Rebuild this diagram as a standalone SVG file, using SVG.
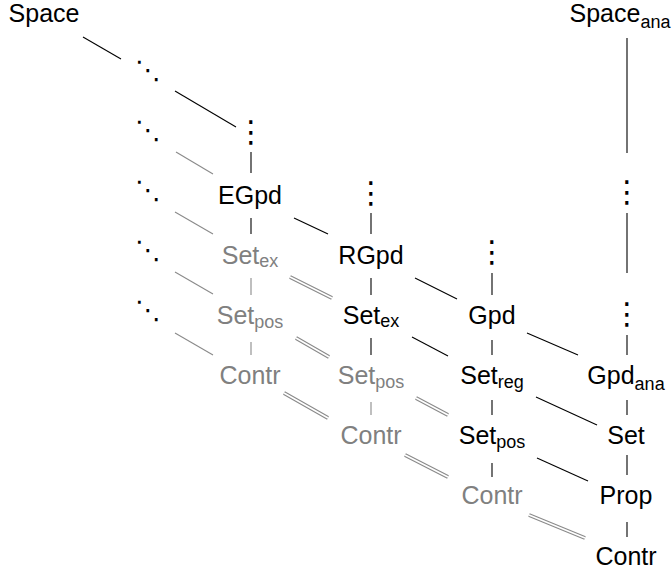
<svg xmlns="http://www.w3.org/2000/svg" width="672" height="574" viewBox="0 0 672 574">
<style>
.t{font-family:"Liberation Sans",Arial,sans-serif;font-size:25px;text-anchor:middle;fill:#000}
.g{fill:#808080}
.s{font-size:18px}
.d{font-family:"DejaVu Sans",sans-serif;font-size:30px;text-anchor:middle;fill:#000}
.dd{font-family:"DejaVu Sans",sans-serif;font-size:26px;text-anchor:middle;fill:#000}
.k{stroke:#000;stroke-width:1.1;fill:none}
.l{stroke:#8a8a8a;stroke-width:1.1;fill:none}
.e1{stroke:#8a8a8a;stroke-width:3.8;fill:none}
.e2{stroke:#fff;stroke-width:1.6;fill:none}
</style>
<rect width="672" height="574" fill="#fff"/>
<g id="connectors">
<line class="k" x1="83" y1="37" x2="121" y2="59"/>
<line class="k" x1="175" y1="91" x2="236" y2="127"/>
<line class="l" x1="176" y1="152" x2="213" y2="174"/>
<line class="l" x1="175" y1="212" x2="213" y2="234"/>
<line class="l" x1="175" y1="272" x2="213" y2="294"/>
<line class="l" x1="175" y1="333" x2="213" y2="355"/>
<line class="k" x1="294" y1="218" x2="328" y2="234"/>
<line class="k" x1="415" y1="278" x2="457" y2="299"/>
<line class="k" x1="412" y1="337" x2="448" y2="356"/>
<line class="k" x1="527" y1="333" x2="578" y2="355"/>
<line class="k" x1="536" y1="397" x2="597" y2="425"/>
<line class="k" x1="537" y1="458" x2="588" y2="481"/>
<line class="k" x1="251" y1="152" x2="251" y2="173"/>
<line class="k" x1="251" y1="218" x2="251" y2="234"/>
<line class="l" x1="251" y1="278" x2="251" y2="295"/>
<line class="l" x1="251" y1="342" x2="251" y2="355"/>
<line class="k" x1="371" y1="213" x2="371" y2="234"/>
<line class="k" x1="371" y1="278" x2="371" y2="295"/>
<line class="k" x1="371" y1="338" x2="371" y2="355"/>
<line class="l" x1="371" y1="402" x2="371" y2="415"/>
<line class="k" x1="492" y1="273" x2="492" y2="295"/>
<line class="k" x1="492" y1="340" x2="492" y2="355"/>
<line class="k" x1="492" y1="400" x2="492" y2="415"/>
<line class="k" x1="492" y1="463" x2="492" y2="477"/>
<line class="k" x1="627" y1="38" x2="627" y2="153"/>
<line class="k" x1="627" y1="213" x2="627" y2="273"/>
<line class="k" x1="627" y1="335" x2="627" y2="355"/>
<line class="k" x1="627" y1="400" x2="627" y2="415"/>
<line class="k" x1="627" y1="455" x2="627" y2="475"/>
<line class="k" x1="627" y1="522" x2="627" y2="537"/>
<g id="equalities">
<path class="e1" d="M290 277L332 298M296 338L329 357M284 393L328 418M416 398L448 415M405 455L448 477M529 515L585 538"/>
<path class="e2" d="M290 277L332 298M296 338L329 357M284 393L328 418M416 398L448 415M405 455L448 477M529 515L585 538"/>
</g>
</g>
<g id="n-space"><text class="t" x="44" y="22">Space</text></g>
<g id="n-space-ana"><text class="t" x="620" y="22">Space<tspan class="s" dy="6">ana</tspan></text></g>
<g id="n-dd1"><text class="dd" x="148" y="79">⋱</text></g>
<g id="n-dd2"><text class="dd" x="148" y="139">⋱</text></g>
<g id="n-dd3"><text class="dd" x="148" y="199">⋱</text></g>
<g id="n-dd4"><text class="dd" x="148" y="259">⋱</text></g>
<g id="n-dd5"><text class="dd" x="148" y="319">⋱</text></g>
<g id="n-vd1"><text class="d" x="251" y="142">⋮</text></g>
<g id="n-vd2"><text class="d" x="371" y="203">⋮</text></g>
<g id="n-vd3"><text class="d" x="492" y="262">⋮</text></g>
<g id="n-vd4"><text class="d" x="627" y="202">⋮</text></g>
<g id="n-vd5"><text class="d" x="627" y="324">⋮</text></g>
<g id="n-egpd"><text class="t" x="250" y="204">EGpd</text></g>
<g id="n-setex1"><text class="t g" x="250" y="264">Set<tspan class="s" dy="3">ex</tspan></text></g>
<g id="n-setpos1"><text class="t g" x="250" y="324">Set<tspan class="s" dy="3.5">pos</tspan></text></g>
<g id="n-contr1"><text class="t g" x="250" y="384">Contr</text></g>
<g id="n-rgpd"><text class="t" x="371" y="264">RGpd</text></g>
<g id="n-setex2"><text class="t" x="371" y="324">Set<tspan class="s" dy="3">ex</tspan></text></g>
<g id="n-setpos2"><text class="t g" x="371" y="384">Set<tspan class="s" dy="3.5">pos</tspan></text></g>
<g id="n-contr2"><text class="t g" x="371" y="444">Contr</text></g>
<g id="n-gpd"><text class="t" x="492" y="324">Gpd</text></g>
<g id="n-setreg"><text class="t" x="492" y="384">Set<tspan class="s" dy="3.5">reg</tspan></text></g>
<g id="n-setpos3"><text class="t" x="492" y="444">Set<tspan class="s" dy="3.5">pos</tspan></text></g>
<g id="n-contr3"><text class="t g" x="492" y="504">Contr</text></g>
<g id="n-gpdana"><text class="t" x="626" y="384">Gpd<tspan class="s" dy="6">ana</tspan></text></g>
<g id="n-set"><text class="t" x="626" y="444">Set</text></g>
<g id="n-prop"><text class="t" x="626" y="504">Prop</text></g>
<g id="n-contr4"><text class="t" x="626" y="565">Contr</text></g>
</svg>
